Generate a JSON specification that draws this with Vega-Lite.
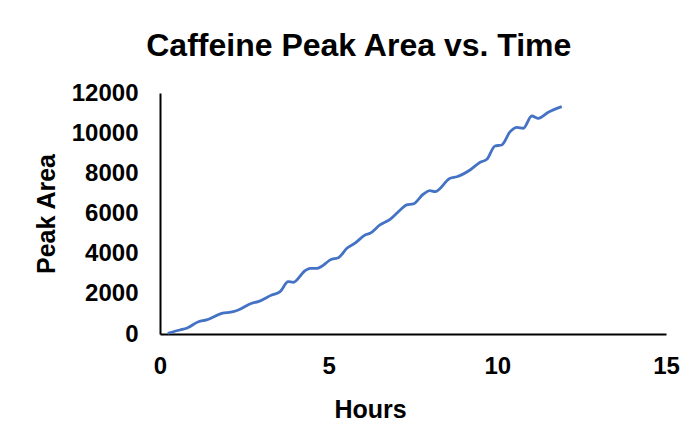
{
  "$schema": "https://vega.github.io/schema/vega-lite/v6.json",
  "autosize": {"type": "none"},
  "width": 506,
  "height": 241,
  "padding": {"left": 160, "top": 93, "right": 28, "bottom": 103},
  "background": "white",
  "title": {
    "text": "Caffeine Peak Area vs. Time",
    "font": "Liberation Sans",
    "fontSize": 32,
    "fontWeight": "bold",
    "color": "#000000",
    "anchor": "middle",
    "frame": "bounds",
    "offset": 18,
    "dx": 2
  },
  "config": {
    "view": {"stroke": null},
    "axis": {
      "labelFont": "Liberation Sans",
      "labelFontWeight": "bold",
      "labelFontSize": 24,
      "labelColor": "#000000",
      "titleFont": "Liberation Sans",
      "titleFontWeight": "bold",
      "titleFontSize": 25,
      "titleColor": "#000000",
      "domainColor": "#000000",
      "domainWidth": 2,
      "ticks": false,
      "grid": false
    }
  },
  "data": {
    "values": [
      {"hours": 0.23, "area": 35},
      {"hours": 0.59, "area": 200},
      {"hours": 0.79, "area": 285},
      {"hours": 1.14, "area": 610},
      {"hours": 1.38, "area": 700},
      {"hours": 1.83, "area": 1030},
      {"hours": 2.17, "area": 1110},
      {"hours": 2.32, "area": 1195},
      {"hours": 2.72, "area": 1530},
      {"hours": 2.91, "area": 1610},
      {"hours": 3.31, "area": 1940},
      {"hours": 3.56, "area": 2105},
      {"hours": 3.8, "area": 2605},
      {"hours": 3.95, "area": 2575},
      {"hours": 4.3, "area": 3150},
      {"hours": 4.45, "area": 3270},
      {"hours": 4.65, "area": 3270},
      {"hours": 5.09, "area": 3720},
      {"hours": 5.29, "area": 3800},
      {"hours": 5.54, "area": 4270},
      {"hours": 5.78, "area": 4520},
      {"hours": 6.08, "area": 4930},
      {"hours": 6.23, "area": 5015},
      {"hours": 6.52, "area": 5430},
      {"hours": 6.82, "area": 5710},
      {"hours": 7.12, "area": 6175},
      {"hours": 7.31, "area": 6425},
      {"hours": 7.51, "area": 6475},
      {"hours": 7.81, "area": 6970},
      {"hours": 8.0, "area": 7135},
      {"hours": 8.15, "area": 7085},
      {"hours": 8.6, "area": 7755},
      {"hours": 8.8, "area": 7830},
      {"hours": 9.19, "area": 8165},
      {"hours": 9.49, "area": 8550},
      {"hours": 9.69, "area": 8700},
      {"hours": 9.93, "area": 9360},
      {"hours": 10.13, "area": 9410},
      {"hours": 10.38, "area": 10075},
      {"hours": 10.58, "area": 10290},
      {"hours": 10.77, "area": 10245},
      {"hours": 11.02, "area": 10855},
      {"hours": 11.22, "area": 10740},
      {"hours": 11.51, "area": 11040},
      {"hours": 11.91, "area": 11320}
    ]
  },
  "mark": {"type": "line", "color": "#4472C4", "strokeWidth": 2.8, "interpolate": "monotone"},
  "encoding": {
    "x": {
      "field": "hours",
      "type": "quantitative",
      "title": "Hours",
      "scale": {"domain": [0, 15], "nice": false},
      "axis": {"values": [0, 5, 10, 15], "labelPadding": 20, "titlePadding": 19, "labelFlush": false, "titleX": 210}
    },
    "y": {
      "field": "area",
      "type": "quantitative",
      "title": "Peak Area",
      "scale": {"domain": [0, 12000], "nice": false},
      "axis": {"values": [0, 2000, 4000, 6000, 8000, 10000, 12000], "format": "d", "labelPadding": 22, "titlePadding": 12, "labelFlush": false}
    }
  }
}
